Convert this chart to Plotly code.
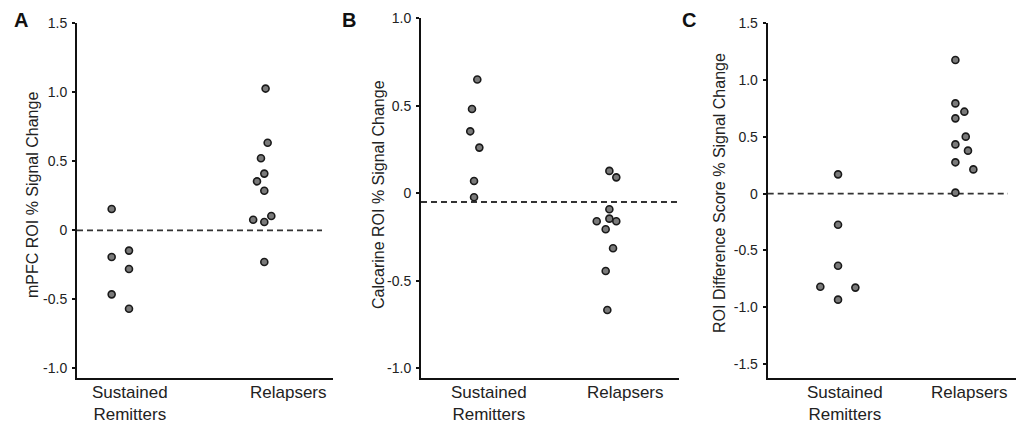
import plotly.graph_objects as go

# ---------------- data ----------------
categories = ["Sustained<br>Remitters", "Relapsers"]

# Panel A: mPFC ROI % signal change
a_sr_vals = [0.155, -0.193, -0.464, -0.147, -0.280, -0.568]
a_sr_jit = [-0.115, -0.115, -0.115, -0.006, -0.006, -0.006]
a_rel_vals = [1.027, 0.635, 0.522, 0.411, 0.287, 0.060, -0.229, 0.355, 0.104, 0.077]
a_rel_jit = [-0.147, -0.134, -0.176, -0.155, -0.155, -0.155, -0.155, -0.201, -0.111, -0.225]

# Panel B: Calcarine ROI % signal change
b_sr_vals = [0.650, 0.482, 0.354, 0.261, 0.070, -0.023]
b_sr_jit = [-0.086, -0.125, -0.138, -0.071, -0.110, -0.110]
b_rel_vals = [0.128, -0.091, -0.145, 0.091, -0.160, -0.160, -0.206, -0.444, -0.314, -0.667]
b_rel_jit = [-0.115, -0.115, -0.115, -0.064, -0.064, -0.208, -0.142, -0.142, -0.088, -0.130]

# Panel C: ROI difference score % signal change
c_sr_vals = [0.170, -0.273, -0.634, -0.933, -0.819, -0.827]
c_sr_jit = [-0.056, -0.056, -0.056, -0.056, -0.198, 0.083]
c_rel_vals = [1.177, 0.795, 0.663, 0.434, 0.276, 0.009, 0.722, 0.502, 0.379, 0.214]
c_rel_jit = [-0.115, -0.115, -0.115, -0.115, -0.115, -0.115, -0.043, -0.032, -0.014, 0.029]

ref_lines = [0.0, -0.05, 0.0]
y_titles = ["mPFC ROI % Signal Change", "Calcarine ROI % Signal Change",
            "ROI Difference Score % Signal Change"]
panel_letters = ["A", "B", "C"]
y_ticks = [[1.5, 1.0, 0.5, 0, -0.5, -1.0],
           [1.0, 0.5, 0, -0.5, -1.0],
           [1.5, 1.0, 0.5, 0, -0.5, -1.0, -1.5]]
y_ticktext = [["1.5", "1.0", "0.5", "0", "-0.5", "-1.0"],
              ["1.0", "0.5", "0", "-0.5", "-1.0"],
              ["1.5", "1.0", "0.5", "0", "-0.5", "-1.0", "-1.5"]]

# ---------------- layout geometry ----------------
W, H = 1017, 424
x_domains = [[77 / W, 333 / W], [421 / W, 679 / W], [767.7 / W, 1016 / W]]
y_domains = [[1 - 378 / H, 1 - 23.3 / H], [1 - 377.7 / H, 1 - 18.3 / H], [1 - 377.7 / H, 1 - 23.3 / H]]
x_ranges = [[-0.333, 1.277], [-0.5, 1.397], [-0.62, 1.371]]
y_ranges = [[-1.07, 1.5], [-1.054, 1.0], [-1.62, 1.5]]
line_ends = [1.208, 1.397, 1.307]
title_x = [32, 378, 719]
title_y = [195, 195, 193]
letter_x = [20.5, 349, 689]

font_family = "Liberation Sans, Arial, sans-serif"
txt_col = "#222222"

fig = go.Figure()

panels = [
    (a_sr_vals, a_sr_jit, a_rel_vals, a_rel_jit),
    (b_sr_vals, b_sr_jit, b_rel_vals, b_rel_jit),
    (c_sr_vals, c_sr_jit, c_rel_vals, c_rel_jit),
]

marker = dict(size=7, color="#7a7a7a", line=dict(color="#1a1a1a", width=1.6))

shapes = []
annotations = []
for i, (srv, srj, rv, rj) in enumerate(panels):
    sfx = "" if i == 0 else str(i + 1)
    xs = [0 + j for j in srj] + [1 + j for j in rj]
    ys = srv + rv
    fig.add_trace(go.Scatter(x=xs, y=ys, mode="markers", marker=marker,
                             xaxis="x" + sfx, yaxis="y" + sfx,
                             showlegend=False, hoverinfo="y"))
    fig.layout["xaxis" + sfx] = dict(
        domain=x_domains[i], range=x_ranges[i], anchor="y" + sfx,
        showticklabels=False, ticks="", automargin=False,
        showline=True, linecolor="#111111", linewidth=2,
        showgrid=False, zeroline=False, fixedrange=True,
    )
    fig.layout["yaxis" + sfx] = dict(
        domain=y_domains[i], range=y_ranges[i], anchor="x" + sfx,
        tickvals=y_ticks[i], ticktext=y_ticktext[i], automargin=False,
        ticks="outside", ticklen=3, tickwidth=1.5, tickcolor="#111111",
        showline=True, linecolor="#111111", linewidth=2,
        showgrid=False, zeroline=False, fixedrange=True,
        ticklabelstandoff=2,
        tickfont=dict(family=font_family, size=14, color=txt_col),
    )
    shapes.append(dict(type="line", xref="x" + sfx, yref="y" + sfx,
                       x0=x_ranges[i][0], x1=line_ends[i],
                       y0=ref_lines[i], y1=ref_lines[i],
                       line=dict(color="#333333", width=1.8, dash="6px,4px"),
                       layer="below"))
    # category labels
    for k, cat in enumerate(categories):
        annotations.append(dict(text=cat, xref="x" + sfx, yref="paper",
                                x=k, y=1 - 381 / H, xanchor="center", yanchor="top",
                                showarrow=False, align="center",
                                font=dict(family=font_family, size=17, color=txt_col)))
    annotations.append(dict(text=y_titles[i], xref="paper", yref="paper",
                            x=title_x[i] / W, y=1 - title_y[i] / H,
                            xanchor="center", yanchor="middle", textangle=-90,
                            showarrow=False,
                            font=dict(family=font_family, size=16, color=txt_col)))
    annotations.append(dict(text="<b>" + panel_letters[i] + "</b>", xref="paper", yref="paper",
                            x=letter_x[i] / W, y=1 - 19.5 / H,
                            xanchor="center", yanchor="middle", showarrow=False,
                            font=dict(family=font_family, size=20, color="#111111")))

fig.update_layout(
    width=W, height=H, margin=dict(l=0, r=0, t=0, b=0),
    paper_bgcolor="white", plot_bgcolor="white",
    shapes=shapes, annotations=annotations,
)

fig.write_html("out.html", config={"displayModeBar": False},
               post_script="document.body.style.margin='0';document.body.style.overflow='hidden';")
